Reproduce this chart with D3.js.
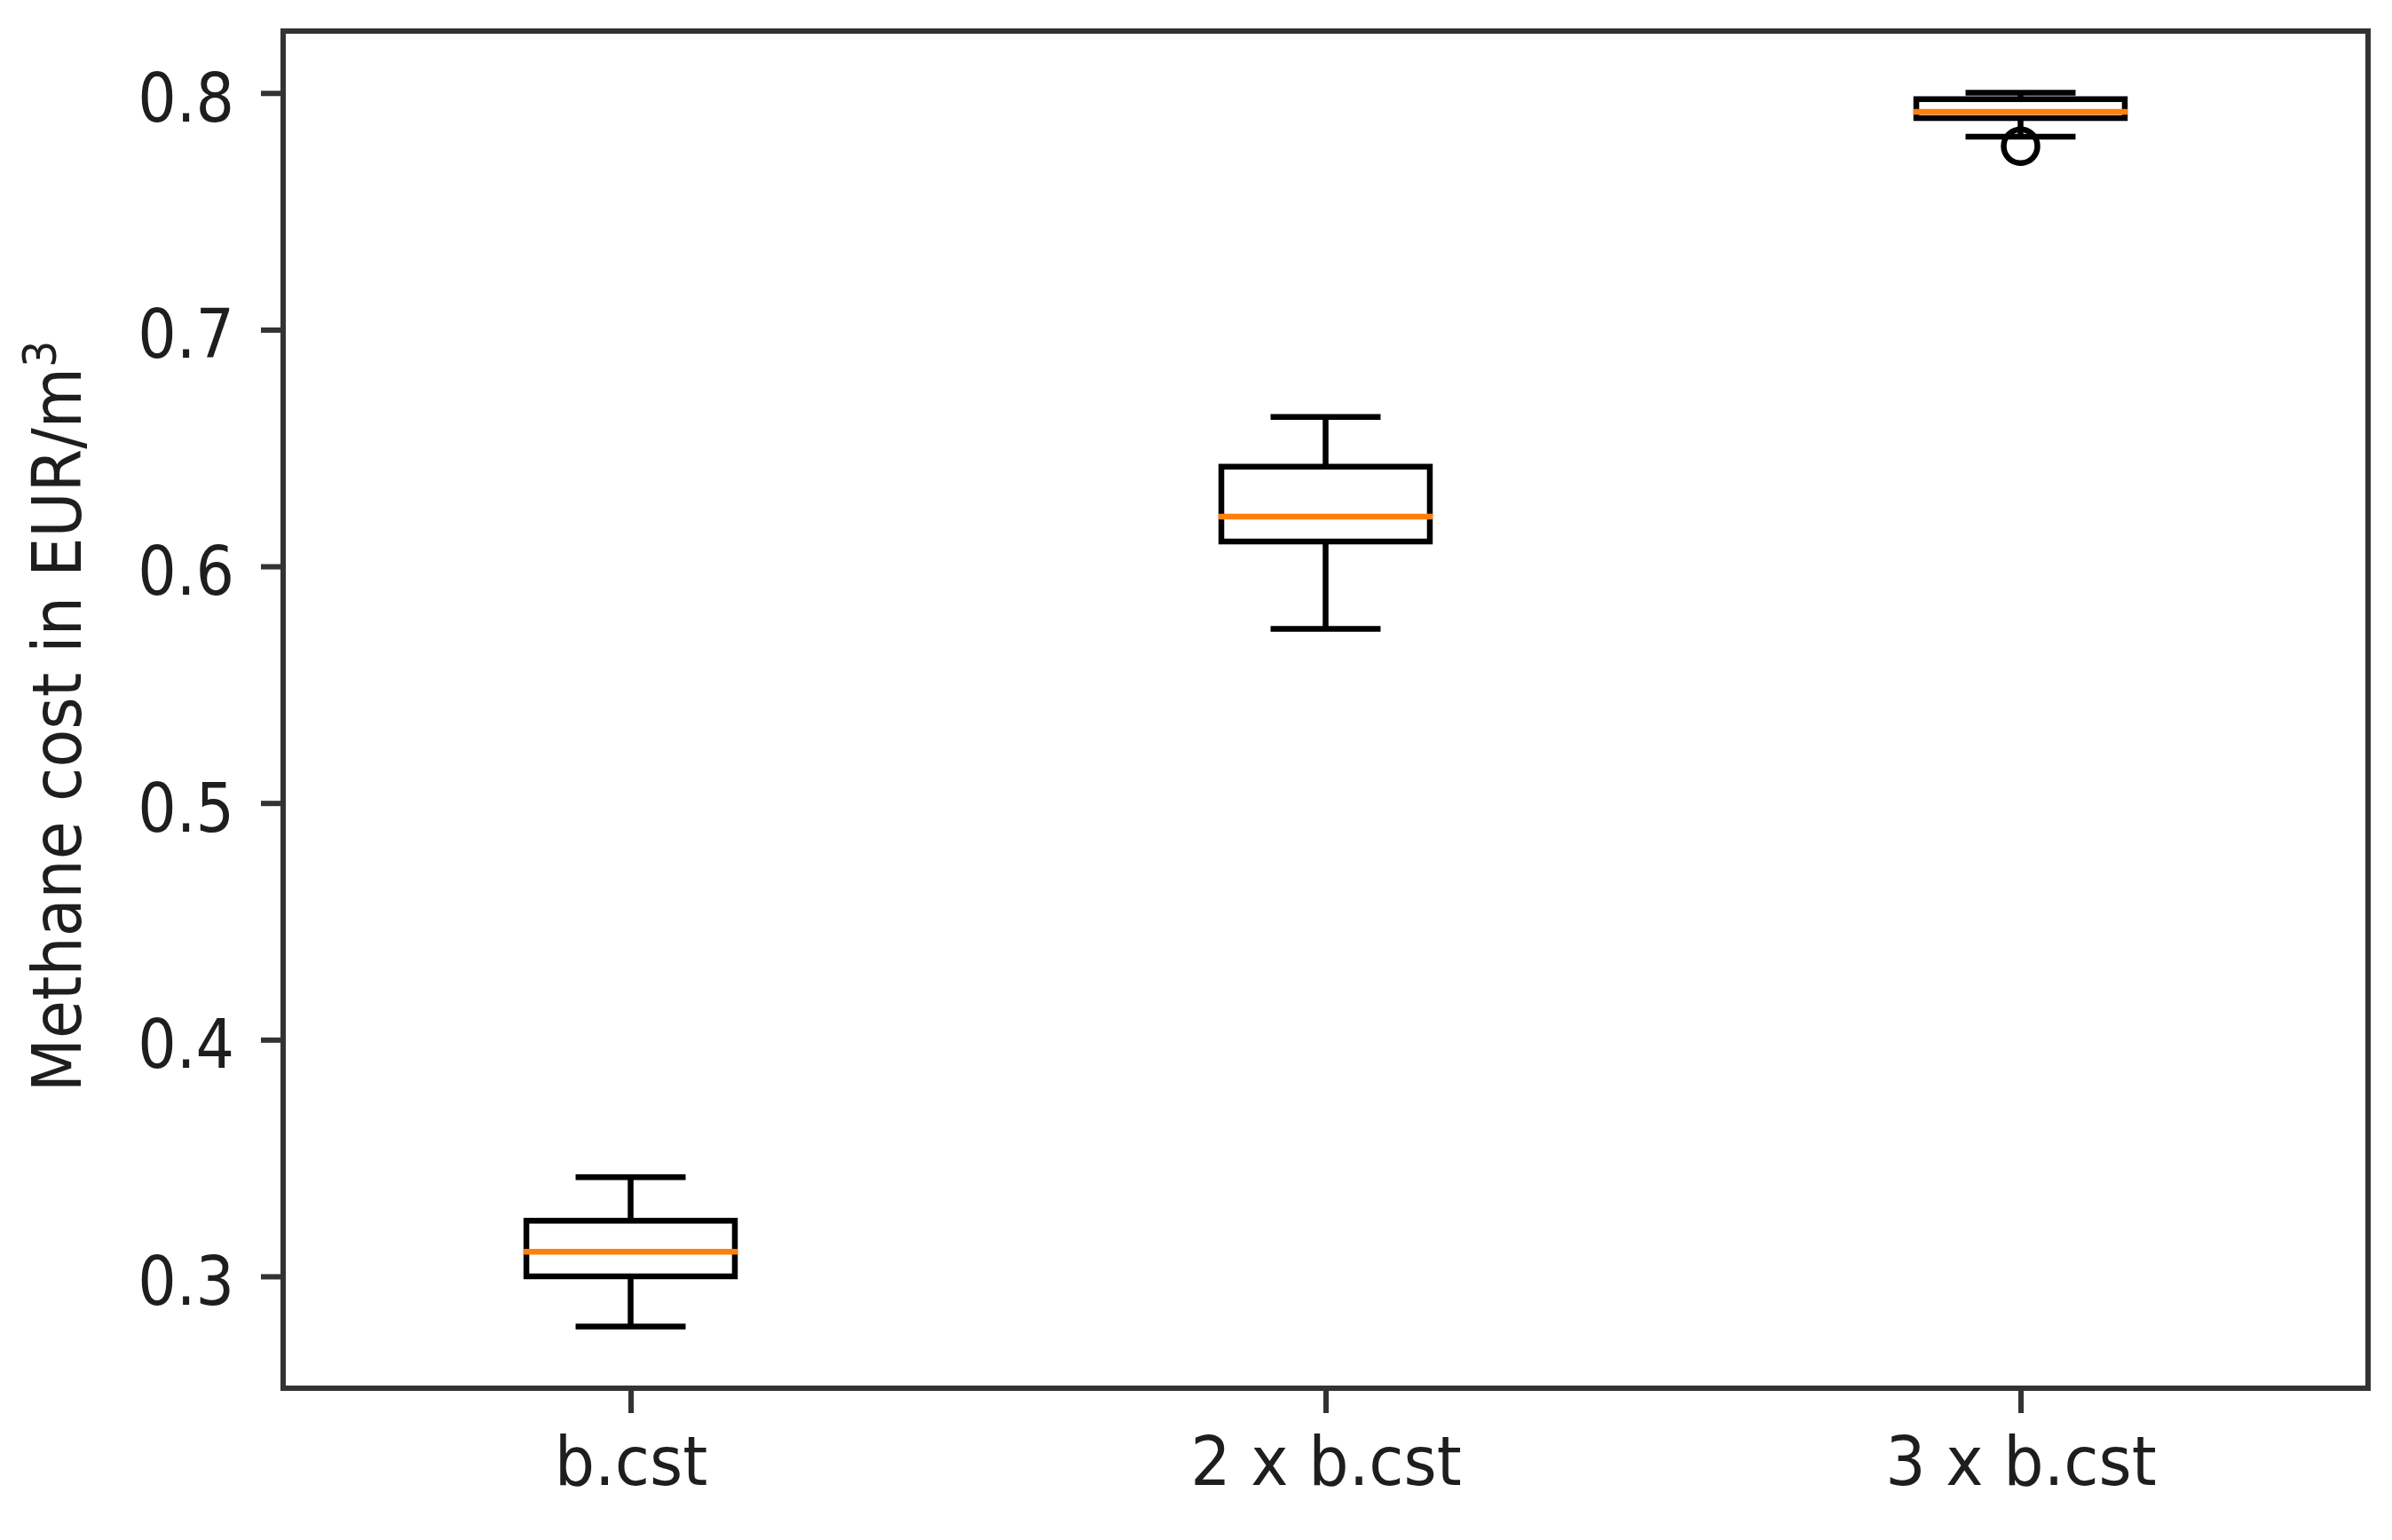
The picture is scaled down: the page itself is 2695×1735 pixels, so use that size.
<!DOCTYPE html>
<html>
<head>
<meta charset="utf-8">
<script src="https://cdn.jsdelivr.net/npm/d3@7"></script>
<style>
  html, body { margin: 0; padding: 0; background: #fff; }
  svg { display: block; }
  text { font-family: "DejaVu Sans", sans-serif; fill: #1e1e1e; }
</style>
</head>
<body>
<svg id="chart" width="2695" height="1735"></svg>
<script>
// ---- data ----
const categories   = ["b.cst", "2 x b.cst", "3 x b.cst"];
const positions    = [1, 2, 3];
const whiskerLow   = [0.2788, 0.5736, 0.7815];
const q1           = [0.3000, 0.6105, 0.7894];
const medians      = [0.3104, 0.6210, 0.7920];
const q3           = [0.3235, 0.6421, 0.7974];
const whiskerHigh  = [0.3419, 0.6631, 0.8001];
const outliers     = [[], [], [0.7775]];
const yTickValues  = [0.3, 0.4, 0.5, 0.6, 0.7, 0.8];
const yLabelMain   = "Methane cost in EUR/m";
const yLabelSup    = "3";

// ---- layout ----
const plot = { left: 319, right: 2668, top: 35, bottom: 1564 };
const boxWidth = 0.3, capWidth = 0.15;
const lw = 6.5;

const svg = d3.select("#chart");

// y-domain like matplotlib autoscale: data extent + 5% margins
const allVals = whiskerLow.concat(whiskerHigh, outliers.flat());
const yMin = d3.min(allVals), yMax = d3.max(allVals);
const pad = (yMax - yMin) * 0.05;

const x = d3.scaleLinear().domain([0.5, 3.5]).range([plot.left, plot.right]);
const y = d3.scaleLinear().domain([yMin - pad, yMax + pad]).range([plot.bottom, plot.top]);

const boxes = positions.map((p, i) => ({
  pos: p, lo: whiskerLow[i], q1: q1[i], med: medians[i], q3: q3[i], hi: whiskerHigh[i], out: outliers[i]
}));

const g = svg.append("g");

// whiskers (stems)
g.selectAll("line.whiskLo").data(boxes).join("line")
  .attr("x1", d => x(d.pos)).attr("x2", d => x(d.pos))
  .attr("y1", d => y(d.q1)).attr("y2", d => y(d.lo))
  .attr("stroke", "#000").attr("stroke-width", lw);
g.selectAll("line.whiskHi").data(boxes).join("line")
  .attr("x1", d => x(d.pos)).attr("x2", d => x(d.pos))
  .attr("y1", d => y(d.q3)).attr("y2", d => y(d.hi))
  .attr("stroke", "#000").attr("stroke-width", lw);

// caps
["lo", "hi"].forEach(k => {
  g.append("g").selectAll("line").data(boxes).join("line")
    .attr("x1", d => x(d.pos - capWidth / 2)).attr("x2", d => x(d.pos + capWidth / 2))
    .attr("y1", d => y(d[k])).attr("y2", d => y(d[k]))
    .attr("stroke", "#000").attr("stroke-width", lw).attr("stroke-linecap", "square");
});

// boxes
g.append("g").selectAll("rect").data(boxes).join("rect")
  .attr("x", d => x(d.pos - boxWidth / 2))
  .attr("width", d => x(d.pos + boxWidth / 2) - x(d.pos - boxWidth / 2))
  .attr("y", d => y(d.q3))
  .attr("height", d => y(d.q1) - y(d.q3))
  .attr("fill", "none").attr("stroke", "#000").attr("stroke-width", lw);

// medians
g.append("g").selectAll("line").data(boxes).join("line")
  .attr("x1", d => x(d.pos - boxWidth / 2)).attr("x2", d => x(d.pos + boxWidth / 2))
  .attr("y1", d => y(d.med)).attr("y2", d => y(d.med))
  .attr("stroke", "#ff7f0e").attr("stroke-width", lw).attr("stroke-linecap", "square");

// fliers
const fl = boxes.flatMap(d => d.out.map(v => ({ pos: d.pos, v })));
g.append("g").selectAll("circle").data(fl).join("circle")
  .attr("cx", d => x(d.pos)).attr("cy", d => y(d.v)).attr("r", 19)
  .attr("fill", "none").attr("stroke", "#000").attr("stroke-width", lw);

// y axis
const yAxis = svg.append("g")
  .attr("transform", `translate(${plot.left},0)`)
  .call(d3.axisLeft(y).tickValues(yTickValues).tickFormat(d3.format(".1f")).tickSize(25));
yAxis.select(".domain").remove();
yAxis.selectAll(".tick line").attr("stroke", "#333").attr("stroke-width", 6);
yAxis.selectAll(".tick text")
  .attr("x", 0).attr("dy", null).attr("y", 0)
  .attr("text-anchor", "end")
  .attr("font-size", 76)
  .attr("transform", "translate(-55,31.5) scale(0.9,1)");

// x axis
const xAxis = svg.append("g")
  .attr("transform", `translate(0,${plot.bottom})`)
  .call(d3.axisBottom(x).tickValues(positions).tickFormat(p => categories[p - 1]).tickSize(28));
xAxis.select(".domain").remove();
xAxis.selectAll(".tick line").attr("stroke", "#333").attr("stroke-width", 6);
xAxis.selectAll(".tick text")
  .attr("y", 0).attr("dy", null)
  .attr("text-anchor", "middle")
  .attr("font-size", 76)
  .attr("transform", "translate(0,109) scale(0.94,1)");

// spines
svg.append("rect")
  .attr("x", plot.left).attr("y", plot.top)
  .attr("width", plot.right - plot.left).attr("height", plot.bottom - plot.top)
  .attr("fill", "none").attr("stroke", "#333").attr("stroke-width", 6);

// y label
const yl = svg.append("text")
  .attr("transform", "translate(91,807) rotate(-90) scale(0.92,1)")
  .attr("text-anchor", "middle")
  .attr("font-size", 76);
yl.append("tspan").text(yLabelMain);
yl.append("tspan").attr("font-size", 52).attr("dy", -28).text(yLabelSup);
</script>
</body>
</html>
